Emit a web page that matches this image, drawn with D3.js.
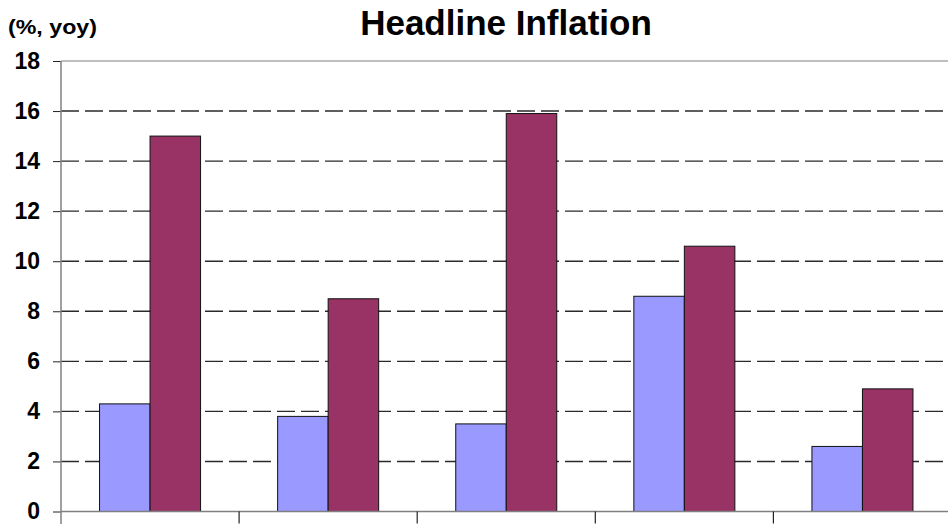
<!DOCTYPE html>
<html>
<head>
<meta charset="utf-8">
<script src="https://cdn.jsdelivr.net/npm/d3@7"></script>
<style>
  body { margin: 0; background: #fff; }
  svg { display: block; font-family: "Liberation Sans", Arial, sans-serif; }
</style>
</head>
<body>
<div id="chart"></div>
<script>
var width = 948;
var height = 524;

// data (category labels are not visible in the reference)
var categories = ["Cat 1", "Cat 2", "Cat 3", "Cat 4", "Cat 5"];
var seriesNames = ["Series 1", "Series 2"];
var series1 = [4.3, 3.8, 3.5, 8.6, 2.6];
var series2 = [15.0, 8.5, 15.9, 10.6, 4.9];
var yTicks = [0, 2, 4, 6, 8, 10, 12, 14, 16, 18];

var seriesColors = {};
seriesColors["Series 1"] = "#9999FF";
seriesColors["Series 2"] = "#993366";

var rows = categories.map(function(c, i) {
  return { category: c, values: [
    { name: seriesNames[0], value: series1[i] },
    { name: seriesNames[1], value: series2[i] }
  ] };
});

// plot area edges (note: "top" is reserved on window, so use plot* names)
var plotLeft = 61;
var plotRight = 951.5;
var plotTop = 61;
var plotBottom = 511.5;

var svg = d3.select("#chart")
    .append("svg")
    .attr("width", width)
    .attr("height", height)

var x0 = d3.scaleBand().domain(categories).range([plotLeft, plotRight]).padding(0)
var x1 = d3.scaleBand().domain(seriesNames).range([0, x0.bandwidth()])
    .paddingInner(0).paddingOuter(0.763)
var y = d3.scaleLinear().domain([0, 18]).range([plotBottom, plotTop])

// title and unit label
svg.append("text")
    .attr("x", 506)
    .attr("y", 35)
    .text("Headline Inflation")
    .style("text-anchor", "middle")
    .style("font-size", "35px")
    .style("font-weight", "bold")

svg.append("text")
    .attr("x", 8)
    .attr("y", 34)
    .attr("textLength", 89)
    .attr("lengthAdjust", "spacingAndGlyphs")
    .text("(%, yoy)")
    .style("font-size", "20px")
    .style("font-weight", "bold")

// dashed gridlines
svg.selectAll(".grid")
    .data(yTicks.filter(d => d > 0 && d < 18))
    .enter()
    .append("line")
    .attr("class", "grid")
    .attr("x1", plotLeft)
    .attr("x2", width)
    .attr("y1", d => y(d))
    .attr("y2", d => y(d))
    .style("stroke", "#2a2a2a")
    .style("stroke-width", 1.4)
    .style("stroke-dasharray", "18,6")

// plot area top border
svg.append("line")
    .attr("x1", plotLeft)
    .attr("x2", width)
    .attr("y1", y(18))
    .attr("y2", y(18))
    .style("stroke", "#808080")
    .style("stroke-width", 1.2)

// bars
var groups = svg.selectAll(".group")
    .data(rows)
    .enter()
    .append("g")
    .attr("class", "group")
    .attr("transform", d => "translate(" + x0(d.category) + ",0)")

groups.selectAll("rect")
    .data(d => d.values)
    .enter()
    .append("rect")
    .attr("x", d => x1(d.name))
    .attr("y", d => y(d.value))
    .attr("width", x1.bandwidth())
    .attr("height", d => y(0) - y(d.value))
    .attr("fill", d => seriesColors[d.name])
    .style("stroke", "#111")
    .style("stroke-width", 1)

// y axis
var yAxis = d3.axisLeft(y).tickValues(yTicks).tickSize(8).tickPadding(13)
var gy = svg.append("g")
    .attr("transform", "translate(" + plotLeft + ",0)")
    .call(yAxis)
gy.select(".domain").remove()
gy.selectAll(".tick line").style("stroke", "#222")
gy.selectAll(".tick text")
    .style("font-family", "'Liberation Sans', Arial, sans-serif")
    .style("font-size", "23px")
    .style("font-weight", "bold")
    .style("fill", "#000")

svg.append("line")
    .attr("x1", plotLeft)
    .attr("x2", plotLeft)
    .attr("y1", plotTop)
    .attr("y2", height)
    .style("stroke", "#808080")
    .style("stroke-width", 1.5)

// x axis line and ticks between categories
svg.append("line")
    .attr("x1", plotLeft)
    .attr("x2", width)
    .attr("y1", y(0))
    .attr("y2", y(0))
    .style("stroke", "#808080")
    .style("stroke-width", 1.5)

svg.selectAll(".xtick")
    .data(categories.slice(1))
    .enter()
    .append("line")
    .attr("class", "xtick")
    .attr("x1", d => x0(d))
    .attr("x2", d => x0(d))
    .attr("y1", y(0))
    .attr("y2", y(0) + 12)
    .style("stroke", "#222")
    .style("stroke-width", 1.2)
</script>
</body>
</html>
